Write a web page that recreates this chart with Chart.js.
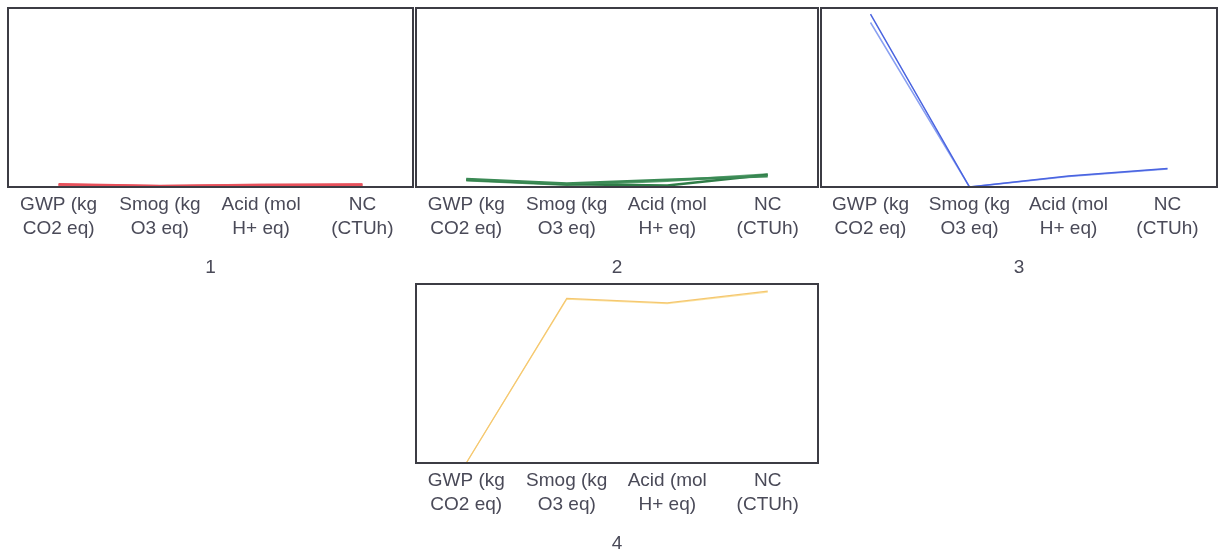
<!DOCTYPE html>
<html>
<head>
<meta charset="utf-8">
<script src="https://cdn.jsdelivr.net/npm/chart.js@4"></script>
<style>
  body { margin: 0; background: #fff; width: 1218px; height: 550px; position: relative; overflow: hidden; }
  .panel { position: absolute; }
</style>
</head>
<body>
<div class="panel" style="left:0px;top:0px;width:421px;height:285px"><canvas id="c1"></canvas></div>
<div class="panel" style="left:408px;top:0px;width:418px;height:285px"><canvas id="c2"></canvas></div>
<div class="panel" style="left:813px;top:0px;width:405px;height:285px"><canvas id="c3"></canvas></div>
<div class="panel" style="left:408px;top:276px;width:418px;height:285px"><canvas id="c4"></canvas></div>
<script>
// categorias (ejes paralelos)
const categorias = [
    ['GWP (kg', 'CO2 eq)'],
    ['Smog (kg', 'O3 eq)'],
    ['Acid (mol', 'H+ eq)'],
    ['NC', '(CTUh)']
];

// valores normalizados 0-1 por cluster
const cluster1 = [
    [0.015, 0.006, 0.010, 0.014],
    [0.012, 0.004, 0.012, 0.013],
    [0.010, 0.003, 0.008, 0.011]
];
const cluster2 = [
    [0.045, 0.020, 0.040, 0.060],
    [0.040, 0.015, 0.008, 0.068],
    [0.038, 0.012, 0.035, 0.070]
];
const cluster3 = [
    [0.966, 0.000, 0.062, 0.103],
    [0.919, 0.000, 0.058, 0.100]
];
const cluster4 = [
    [0.000, 0.920, 0.895, 0.960],
    [0.000, 0.915, 0.890, 0.955]
];

const colores1 = ['#e8505b', '#e46a70', '#ea4a56'];
const colores2 = ['#3b8a55', '#2f7d48', '#5aa070'];
const colores3 = ['#4a64e0', '#8aa0f2'];
const colores4 = ['#f5c770', '#fbe3a0'];

const grosores = { c1: 2.5, c2: 2.5, c3: 1.5, c4: 1.2 };

const colorTexto = '#4a4a58';
const fuente = 'Liberation Sans, Arial, sans-serif';

// dibuja el marco alrededor del area del grafico
const marcoPlugin = {
    id: 'marco',
    afterDraw(chart) {
        const a = chart.chartArea;
        const ctx = chart.ctx;
        ctx.save();
        ctx.strokeStyle = '#3c3c44';
        ctx.lineWidth = 2;
        ctx.strokeRect(a.left, a.top, a.right - a.left, a.bottom - a.top);
        ctx.restore();
    }
};

function crearGrafico(id, series, colores, titulo, padRight) {
    const ctx = document.getElementById(id);
    return new Chart(ctx, {
        type: 'line',
        data: {
            labels: categorias,
            datasets: series.map((s, i) => ({
                data: s,
                borderColor: colores[i % colores.length],
                borderWidth: grosores[id],
                pointRadius: 0,
                tension: 0
            }))
        },
        options: {
            responsive: true,
            maintainAspectRatio: false,
            animation: false,
            layout: { padding: { left: 8, right: padRight, top: 8, bottom: 0 } },
            plugins: { legend: { display: false }, tooltip: { enabled: false } },
            scales: {
                x: {
                    offset: true,
                    grid: { display: false, drawTicks: false },
                    border: { display: false },
                    ticks: {
                        color: colorTexto,
                        padding: 6,
                        maxRotation: 0,
                        autoSkip: false,
                        font: { family: fuente, size: 19, lineHeight: 1.27 }
                    },
                    title: {
                        display: true,
                        text: titulo,
                        color: colorTexto,
                        padding: { top: 0, bottom: 6 },
                        font: { family: fuente, size: 19 }
                    },
                    afterFit(scale) { scale.height = 98; }
                },
                y: { display: false, min: 0, max: 1 }
            }
        },
        plugins: [marcoPlugin]
    });
}

crearGrafico('c1', cluster1, colores1, '1', 8);
crearGrafico('c2', cluster2, colores2, '2', 8);
crearGrafico('c3', cluster3, colores3, '3', 1);
crearGrafico('c4', cluster4, colores4, '4', 8);
</script>
</body>
</html>
